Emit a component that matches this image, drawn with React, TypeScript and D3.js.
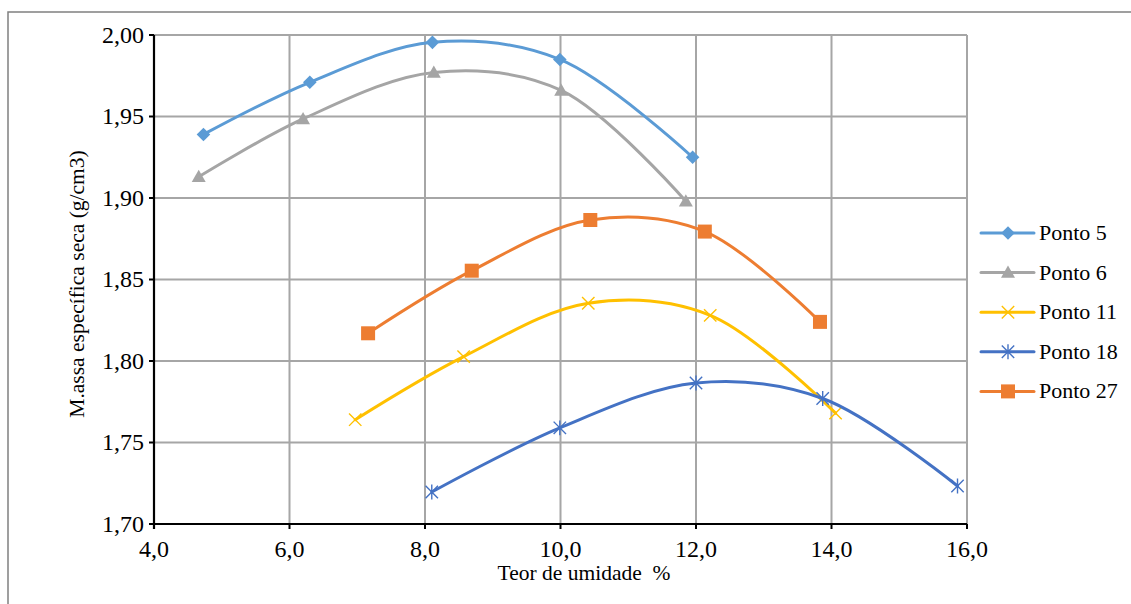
import React from "react";
import * as d3 from "d3";

const xTicks = [4, 6, 8, 10, 12, 14, 16];
const yTicks = [1.7, 1.75, 1.8, 1.85, 1.9, 1.95, 2.0];

const p5X = [4.73, 6.3, 8.11, 9.99, 11.95];
const p5Y = [1.939, 1.971, 1.9955, 1.985, 1.925];
const p6X = [4.66, 6.2, 8.13, 10.01, 11.85];
const p6Y = [1.913, 1.9485, 1.977, 1.966, 1.898];
const p11X = [6.97, 8.57, 10.41, 12.21, 14.06];
const p11Y = [1.764, 1.8027, 1.8354, 1.828, 1.768];
const p18X = [8.1, 9.99, 12.0, 13.87, 15.86];
const p18Y = [1.7196, 1.759, 1.7865, 1.777, 1.7233];
const p27X = [7.16, 8.69, 10.44, 12.13, 13.83];
const p27Y = [1.817, 1.8554, 1.8865, 1.8794, 1.824];

const seriesNames = ["Ponto 5", "Ponto 6", "Ponto 11", "Ponto 18", "Ponto 27"];
const seriesColors = ["#5B9BD5", "#A5A5A5", "#FFC000", "#4472C4", "#ED7D31"];
const seriesMarkers = ["diamond", "triangle", "x", "star", "square"];

const W = 1131;
const H = 604;
const L = 154, R = 967, T = 35, B = 524;
const FONT = "Liberation Serif, Times New Roman, serif";

function Marker({ type, x, y, color }: { type: string; x: number; y: number; color: string }) {
  if (type === "diamond") {
    const s = 6.8;
    return <path d={`M${x},${y - s}L${x + s},${y}L${x},${y + s}L${x - s},${y}Z`} fill={color} />;
  }
  if (type === "triangle") {
    const s = 7;
    return <path d={`M${x},${y - s}L${x + s},${y + s * 0.75}L${x - s},${y + s * 0.75}Z`} fill={color} />;
  }
  if (type === "square") {
    const s = 7;
    return <rect x={x - s} y={y - s} width={2 * s} height={2 * s} fill={color} />;
  }
  if (type === "x") {
    const s = 6.2;
    return (
      <path d={`M${x - s},${y - s}L${x + s},${y + s}M${x - s},${y + s}L${x + s},${y - s}`} stroke={color} strokeWidth={1.4} />
    );
  }
  const s = 6.2;
  return (
    <path
      d={`M${x - s},${y - s}L${x + s},${y + s}M${x - s},${y + s}L${x + s},${y - s}M${x},${y - s * 1.2}L${x},${y + s * 1.2}`}
      stroke={color}
      strokeWidth={1.4}
    />
  );
}

export default function App() {
  const x = d3.scaleLinear().domain([4, 16]).range([L, R]);
  const y = d3.scaleLinear().domain([1.7, 2.0]).range([B, T]);
  const xs = [p5X, p6X, p11X, p18X, p27X];
  const ys = [p5Y, p6Y, p11Y, p18Y, p27Y];
  const line = d3
    .line<[number, number]>()
    .x((d) => x(d[0]))
    .y((d) => y(d[1]))
    .curve(d3.curveCatmullRom.alpha(0.5));
  const fmt = (v: number, n: number) => v.toFixed(n).replace(".", ",");

  const legendX = 981;
  const legendY0 = 233;
  const legendDY = 39.6;
  const tickStyle = { fontFamily: FONT, fontSize: 24 } as React.CSSProperties;
  const titleStyle = { fontFamily: FONT, fontSize: 21.5 } as React.CSSProperties;
  const legendStyle = { fontFamily: FONT, fontSize: 22 } as React.CSSProperties;

  return (
    <svg width={W} height={H} style={{ position: "absolute", left: 0, top: 0, background: "#fff" }}>
      <rect x={0} y={0} width={W} height={H} fill="#fff" />
      <rect x={8} y={12} width={W + 20} height={H + 20} fill="none" stroke="#808080" strokeWidth={1.5} />
      {xTicks.slice(1).map((t) => (
        <line key={"gx" + t} x1={x(t)} x2={x(t)} y1={T} y2={B} stroke="#A6A6A6" strokeWidth={2} />
      ))}
      {yTicks.slice(1).map((t) => (
        <line key={"gy" + t} x1={L} x2={R} y1={y(t)} y2={y(t)} stroke="#A6A6A6" strokeWidth={2} />
      ))}
      <line x1={L} x2={L} y1={T} y2={B + 5} stroke="#000" strokeWidth={2.2} />
      <line x1={L - 5} x2={R} y1={B} y2={B} stroke="#000" strokeWidth={2.2} />
      {yTicks.map((t) => (
        <line key={"ty" + t} x1={L - 5} x2={L} y1={y(t)} y2={y(t)} stroke="#000" strokeWidth={2} />
      ))}
      {xTicks.map((t) => (
        <line key={"tx" + t} x1={x(t)} x2={x(t)} y1={B} y2={B + 5} stroke="#000" strokeWidth={2} />
      ))}
      {yTicks.map((t) => (
        <text key={"ly" + t} x={L - 10} y={y(t) + 7.5} textAnchor="end" style={tickStyle}>
          {fmt(t, 2)}
        </text>
      ))}
      {xTicks.map((t) => (
        <text key={"lx" + t} x={x(t)} y={B + 33} textAnchor="middle" style={tickStyle}>
          {fmt(t, 1)}
        </text>
      ))}
      <text x={584} y={580} textAnchor="middle" style={{ ...titleStyle, whiteSpace: "pre" }}>
        Teor de umidade  %
      </text>
      <text transform={`translate(84,${284}) rotate(-90)`} textAnchor="middle" style={titleStyle}>
        M.assa específica seca (g/cm3)
      </text>
      {xs.map((sx, i) => {
        const pts = sx.map((v, j) => [v, ys[i][j]] as [number, number]);
        return (
          <g key={"s" + i}>
            <path d={line(pts) || ""} fill="none" stroke={seriesColors[i]} strokeWidth={3} strokeLinecap="round" />
            {pts.map((p, j) => (
              <Marker key={j} type={seriesMarkers[i]} x={x(p[0])} y={y(p[1])} color={seriesColors[i]} />
            ))}
          </g>
        );
      })}
      {seriesNames.map((n, i) => {
        const ly = legendY0 + i * legendDY;
        return (
          <g key={"lg" + i}>
            <line x1={legendX} x2={legendX + 53} y1={ly} y2={ly} stroke={seriesColors[i]} strokeWidth={3} strokeLinecap="round" />
            <Marker type={seriesMarkers[i]} x={legendX + 27} y={ly} color={seriesColors[i]} />
            <text x={legendX + 58} y={ly + 7} style={legendStyle}>
              {n}
            </text>
          </g>
        );
      })}
    </svg>
  );
}
